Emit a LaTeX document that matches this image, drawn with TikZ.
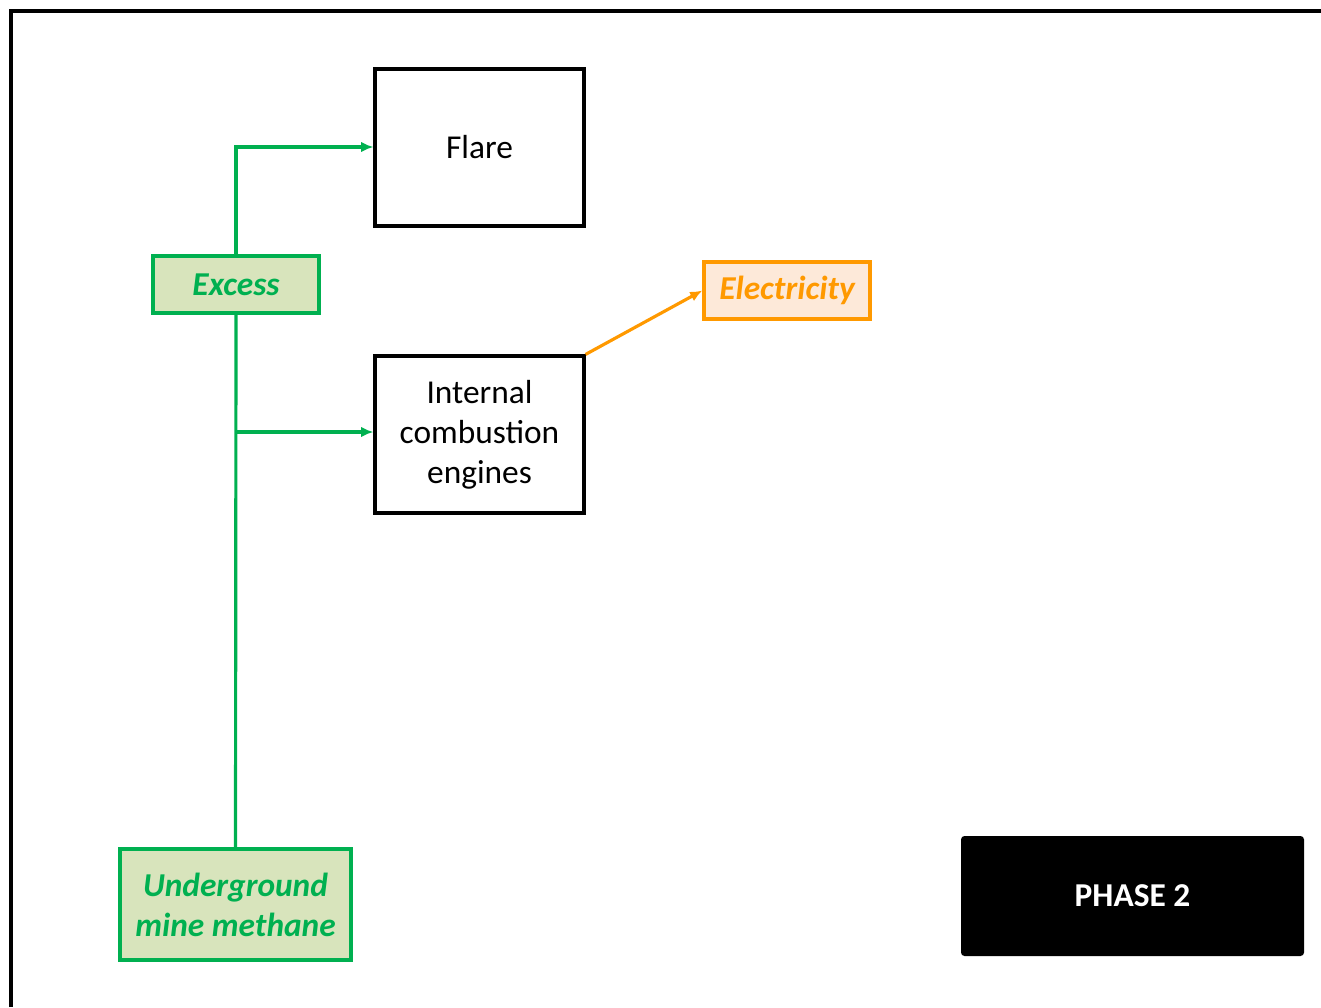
\documentclass[tikz,border=0pt]{standalone}
\usepackage{fontspec}
\setmainfont{Carlito}
\usetikzlibrary{arrows.meta}

\definecolor{flowgreen}{RGB}{0,176,80}
\definecolor{palegreen}{RGB}{216,228,188}
\definecolor{floworange}{RGB}{255,153,0}
\definecolor{paleorange}{RGB}{253,233,217}

\begin{document}
\begin{tikzpicture}[x=0.02cm, y=-0.02cm,
  plant/.style={draw, line width=1.8pt, minimum width=209*0.02cm, minimum height=157*0.02cm, inner sep=0pt, align=center, font=\fontsize{19}{22.8}\selectfont},
  gasbox/.style={draw=flowgreen, fill=palegreen, line width=1.8pt, inner sep=0pt, align=center, text=flowgreen, font=\fontsize{19}{22.8}\selectfont\bfseries\itshape},
  greenflow/.style={draw=flowgreen, line width=1.8pt},
  greenarrow/.style={greenflow, -{Latex[length=7pt,width=6pt]}}]

\useasboundingbox (0,0) rectangle (1321,1007);
\draw[line width=1.8pt] (11,1007) -- (11,11) -- (1321,11);

\node[plant] (flare) at (479.5,147.5) {Flare};
\node[plant] (engines) at (479.5,434.5) {Internal\\combustion\\engines};

\node[gasbox, minimum width=166*0.02cm, minimum height=57*0.02cm] (excess) at (236,284.5) {Excess};
\node[gasbox, minimum width=231*0.02cm, minimum height=111*0.02cm] (methane) at (235.5,904.5) {Underground\\mine methane};

\node[draw=floworange, fill=paleorange, line width=1.8pt, inner sep=0pt, minimum width=166*0.02cm, minimum height=57*0.02cm, text=floworange, font=\fontsize{19}{22.8}\selectfont\bfseries\itshape] (power) at (787,290.5) {Electricity};

\node[fill=black, rounded corners=2pt, minimum width=343*0.02cm, minimum height=120*0.02cm, inner sep=0pt, text=white, font=\fontsize{19}{22.8}\selectfont\bfseries] (phase) at (1132.5,896) {PHASE 2};

\coordinate (split) at (236,432);
\coordinate (bend) at (236,147);

\draw[greenflow] (methane.north) -- (excess.south);
\draw[greenarrow] (split) -- (split -| engines.west);
\draw[greenarrow] (excess.north) -- (bend) -- (bend -| flare.west);
\draw[line width=1.8pt, floworange, -{Latex[length=7pt,width=6pt]}] (engines.north east) -- (power.west);

\end{tikzpicture}
\end{document}
